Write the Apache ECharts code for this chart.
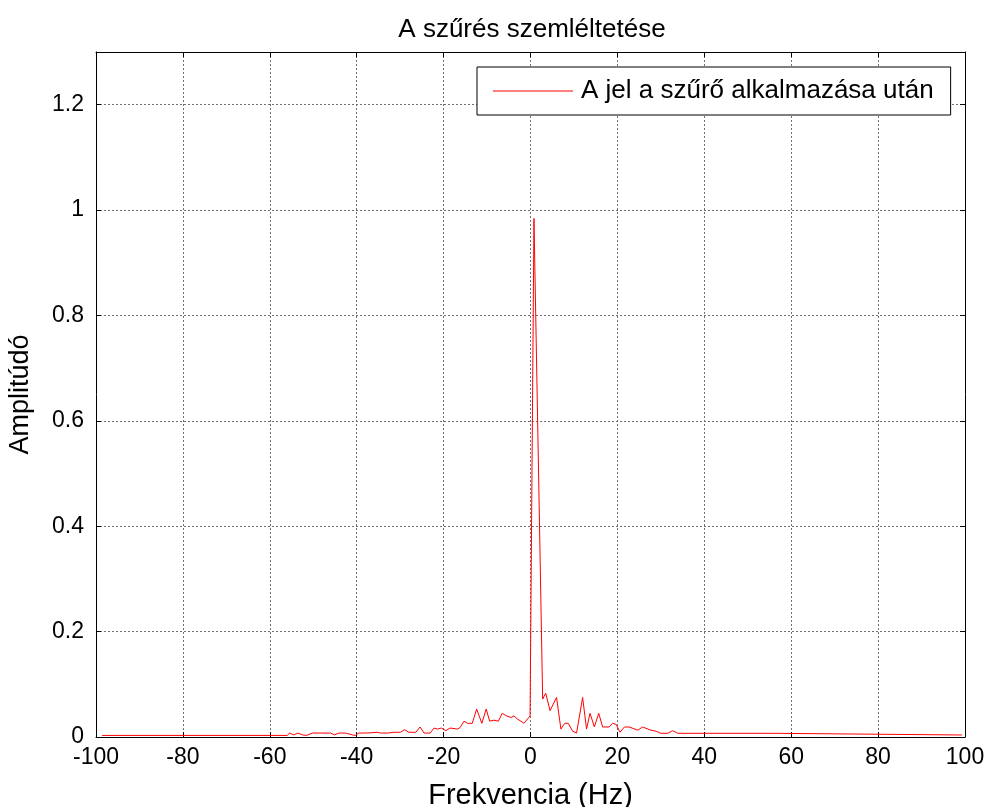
<!DOCTYPE html>
<html>
<head>
<meta charset="utf-8">
<script src="https://cdn.jsdelivr.net/npm/echarts@6/dist/echarts.min.js"></script>
<style>
html,body{margin:0;padding:0;background:#fff;}
#chart{width:987px;height:807px;}
</style>
</head>
<body>
<div id="chart"></div>
<script>
const titleText = 'A szűrés szemléltetése';
const seriesName = 'A jel a szűrő alkalmazása után';
const xName = 'Frekvencia (Hz)';
const yName = 'Amplitúdó';

const freq = [-98.6, -56.0, -55.4, -54.5, -53.5, -52.5, -51.5, -50.2, -46.0, -45.1, -44.1, -42.6, -41.0, -40.3,
  -39.5, -38.3, -36.8, -35.3, -34.5, -32.9, -31.4, -29.9, -29.0, -28.0, -26.4, -25.4, -24.5, -23.1, -22.2,
  -21.4, -20.5, -19.5, -18.5, -17.6, -16.8, -16.2, -15.3, -14.5, -13.4, -12.4, -11.2, -10.2, -9.4, -8.4,
  -7.4, -6.5, -5.5, -4.5, -3.8, -3.0, -2.2, -1.5, -0.1, 0.8, 2.8, 3.5, 4.5, 6.0, 7.0, 7.9, 8.7, 9.7, 10.6,
  12.0, 12.9, 13.7, 14.7, 15.7, 16.6, 18.1, 18.9, 19.7, 20.6, 21.6, 22.7, 24.7, 25.8, 27.7, 28.9, 30.0,
  31.6, 32.7, 33.9, 56.0, 56.3, 99.3];

const amp = [0.003, 0.003, 0.0075, 0.004, 0.0075, 0.004, 0.003, 0.0075, 0.0075, 0.004, 0.0075, 0.0075, 0.004, 0.003,
  0.0075, 0.0075, 0.008, 0.009, 0.0075, 0.0075, 0.009, 0.009, 0.014, 0.009, 0.009, 0.019, 0.0075, 0.0075, 0.017,
  0.015, 0.017, 0.012, 0.017, 0.016, 0.015, 0.018, 0.030, 0.026, 0.026, 0.053, 0.026, 0.053, 0.030, 0.032,
  0.030, 0.045, 0.040, 0.037, 0.040, 0.034, 0.030, 0.026, 0.040, 0.984, 0.072, 0.083, 0.050, 0.075, 0.015, 0.026, 0.026, 0.011, 0.0075,
  0.075, 0.015, 0.045, 0.019, 0.045, 0.019, 0.019, 0.026, 0.024, 0.009, 0.019, 0.019, 0.013, 0.019, 0.013, 0.011, 0.007,
  0.007, 0.012, 0.007, 0.007, 0.0038, 0.0038];

const xMin = -100, xMax = 100, xStep = 20;
const yMin = 0, yMax = 1.3, yStep = 0.2;

const FONT = 'Liberation Sans, Arial, sans-serif';
const pairs = freq.map((f, i) => [f, amp[i]]);

const chart = echarts.init(document.getElementById('chart'), null, {renderer: 'canvas'});

const boxAxisLine = {show: true, onZero: false, lineStyle: {color: '#000', width: 1}};
const boxTick = {show: true, inside: true, length: 5, lineStyle: {color: '#000', width: 1}};
const gridLine = {show: true, lineStyle: {color: '#707070', width: 1, type: [2, 2]}};
const labelStyle = {color: '#000', fontFamily: FONT, fontSize: 23};

chart.setOption({
  animation: false,
  backgroundColor: '#fff',
  title: {
    text: titleText,
    left: 527,
    top: 12,
    textAlign: 'center',
    textStyle: {fontFamily: FONT, fontSize: 26, fontWeight: 'normal', color: '#000'}
  },
  legend: {
    show: true,
    left: 477,
    top: 67,
    orient: 'horizontal',
    padding: [10, 17, 10, 16],
    itemWidth: 80,
    itemHeight: 1,
    itemGap: 0,
    icon: 'rect',
    borderColor: '#000',
    borderWidth: 1,
    borderRadius: 0,
    backgroundColor: '#fff',
    textStyle: {fontFamily: FONT, fontSize: 26, color: '#000', lineHeight: 28, padding: [0, 0, 0, 3]},
    data: [seriesName]
  },
  grid: {left: 96, right: 22, top: 52, bottom: 70, containLabel: false, outerBoundsMode: 'none'},
  xAxis: [
    {
      type: 'value', min: xMin, max: xMax, interval: xStep, position: 'bottom',
      axisLine: boxAxisLine, axisTick: boxTick,
      axisLabel: Object.assign({margin: 9}, labelStyle),
      splitLine: gridLine,
      name: xName, nameLocation: 'middle', nameGap: 44,
      nameTextStyle: {fontFamily: FONT, fontSize: 29, color: '#000'}
    },
    {
      type: 'value', min: xMin, max: xMax, interval: xStep, position: 'top',
      axisLine: boxAxisLine, axisTick: boxTick,
      axisLabel: {show: false}, splitLine: {show: false}
    }
  ],
  yAxis: [
    {
      type: 'value', min: yMin, max: yMax, interval: yStep, position: 'left',
      axisLine: boxAxisLine, axisTick: boxTick,
      axisLabel: Object.assign({margin: 12, showMaxLabel: false}, labelStyle),
      splitLine: gridLine,
      name: yName, nameLocation: 'middle', nameGap: 62,
      nameTextStyle: {fontFamily: FONT, fontSize: 27, color: '#000'}
    },
    {
      type: 'value', min: yMin, max: yMax, interval: yStep, position: 'right',
      axisLine: boxAxisLine, axisTick: boxTick,
      axisLabel: {show: false}, splitLine: {show: false}
    }
  ],
  series: [{
    name: seriesName,
    type: 'line',
    xAxisIndex: 0,
    yAxisIndex: 0,
    data: pairs,
    symbol: 'none',
    showSymbol: false,
    lineStyle: {color: '#ff0000', width: 1},
    itemStyle: {color: '#ff0000'},
    z: 3
  }]
});
</script>
</body>
</html>
